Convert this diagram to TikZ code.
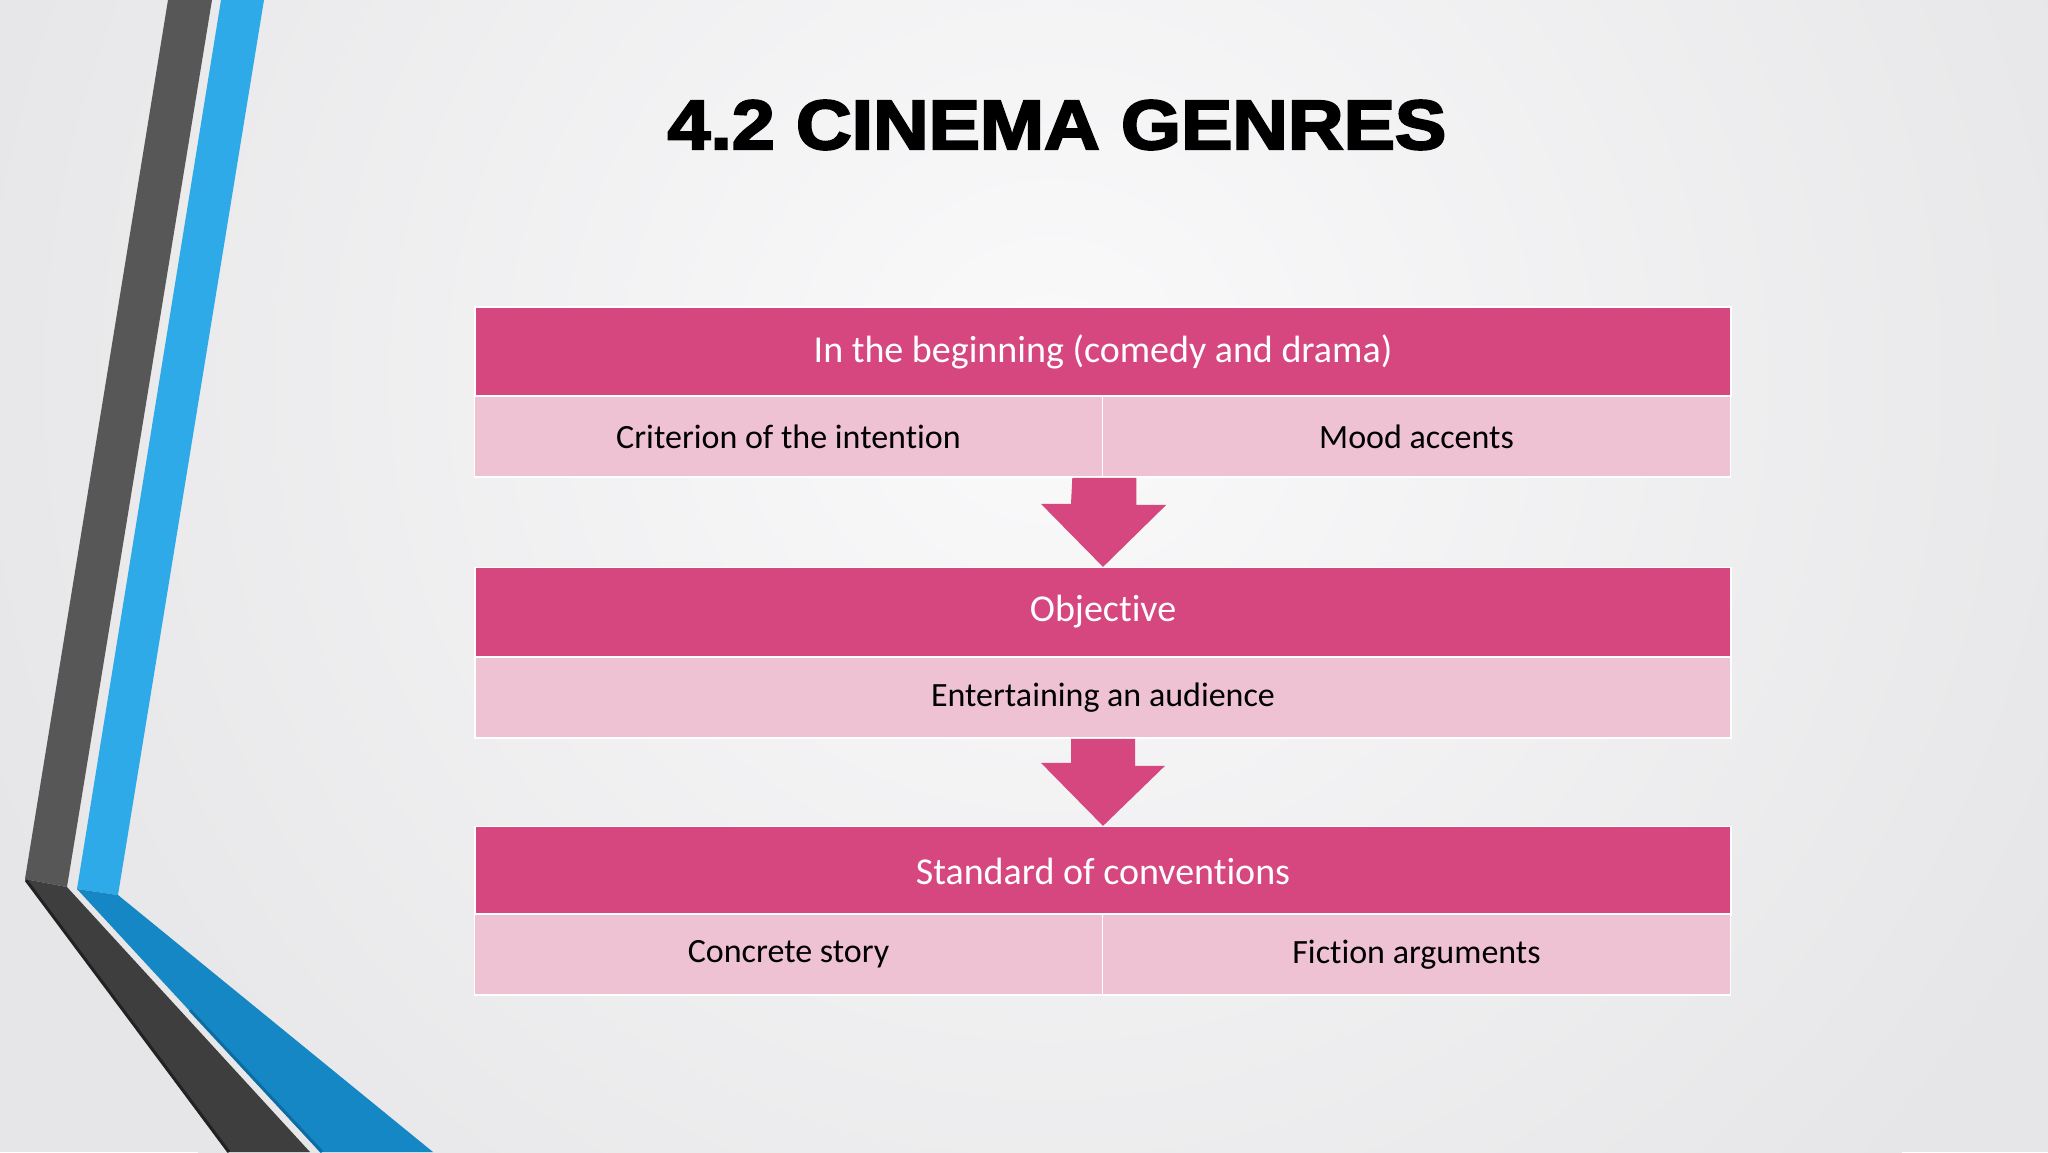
\documentclass[tikz,border=0pt]{standalone}
\usepackage{fontspec}
\setmainfont{Carlito}[Ligatures=NoCommon]
\newfontfamily\titlefont{Liberation Sans}[BoldFeatures={FakeBold=3}]
\usetikzlibrary{calc}
\definecolor{pinkdark}{HTML}{D6467F}
\definecolor{pinklight}{HTML}{EFC2D3}
\definecolor{ribgray}{HTML}{575757}
\definecolor{ribgraydk}{HTML}{3F3E3F}
\definecolor{ribshadow}{HTML}{222222}
\definecolor{ribblue}{HTML}{2FAAE8}
\definecolor{ribbluedk}{HTML}{1587C5}
\definecolor{ribblueshadow}{HTML}{0D6DA3}
\definecolor{bgout}{HTML}{E6E6E8}
\definecolor{bgin}{HTML}{FAFAFB}
\tikzset{
  header/.style={rectangle, fill=pinkdark, draw=white, line width=0.6pt, inner sep=0pt,
    minimum width=628pt, minimum height=44.5pt, text=white,
    font=\fontsize{19}{23}\selectfont},
  cell/.style={rectangle, fill=pinklight, draw=white, line width=0.8pt, inner sep=0pt,
    minimum height=40.5pt, text=black, font=\fontsize{17}{21}\selectfont},
  halfcell/.style={cell, minimum width=314pt},
  fullcell/.style={cell, minimum width=628pt},
  arrowfill/.style={fill=pinkdark},
}
\begin{document}
\begin{tikzpicture}[x=0.5pt,y=-0.5pt]
\useasboundingbox (0,0) rectangle (2048,1152);
% background
\fill[bgout] (0,0) rectangle (2048,1152);
\begin{scope}
\clip (0,0) rectangle (2048,1152);
\shade[inner color=bgin, outer color=bgout] (1050,380) circle (1150);
\end{scope}
% ribbons
\fill[ribgray] (168,0) -- (212,0) -- (67,887) -- (25,879) -- cycle;
\fill[ribgraydk] (25,879) -- (67,887) -- (310,1152) -- (227,1152) -- cycle;
\draw[ribshadow, line width=1.5pt] (26,880) -- (229,1152);
\fill[ribblue] (221,0) -- (264,0) -- (118,895) -- (77,889) -- cycle;
\fill[ribbluedk] (77,889) -- (118,895) -- (433,1152) -- (320,1152) -- cycle;
\draw[ribblueshadow, line width=1.5pt] (190,1010) -- (322,1152);
% title
\node[font=\titlefont\bfseries\fontsize{35}{40}\selectfont, xscale=1.1, inner sep=0pt] (title) at (1057,125) {4.2 CINEMA GENRES};
% block 1
\node[header] (h1) at (1103,351.5) {In the beginning (comedy and drama)};
\node[halfcell] (c1a) at (788.5,436.5) {Criterion of the intention};
\node[halfcell] (c1b) at (1416.5,436.5) {Mood accents};
% block 2
\node[header] (h2) at (1103,612) {Objective};
\node[fullcell] (c2) at (1103,697.5) {Entertaining an audience};
% block 3
\node[header] (h3) at (1103,871) {Standard of conventions};
\node[halfcell] (c3a) at (788.5,954.5) {Concrete story};
\node[halfcell] (c3b) at (1416.5,954.5) {Fiction arguments};
% arrows
\fill[arrowfill] ($(c1a.south east)+(-31,0)$) -- ++(64,0) -- ++(0,27) -- ++(30,0) -- (h2.north) -- ++(-62,-63) -- ++(30,0) -- cycle;
\fill[arrowfill] ($(c2.south)+(-32,0)$) -- ++(64,0) -- ++(0,27) -- ++(30,0) -- (h3.north) -- ++(-62,-63) -- ++(30,0) -- cycle;
\end{tikzpicture}
\end{document}
